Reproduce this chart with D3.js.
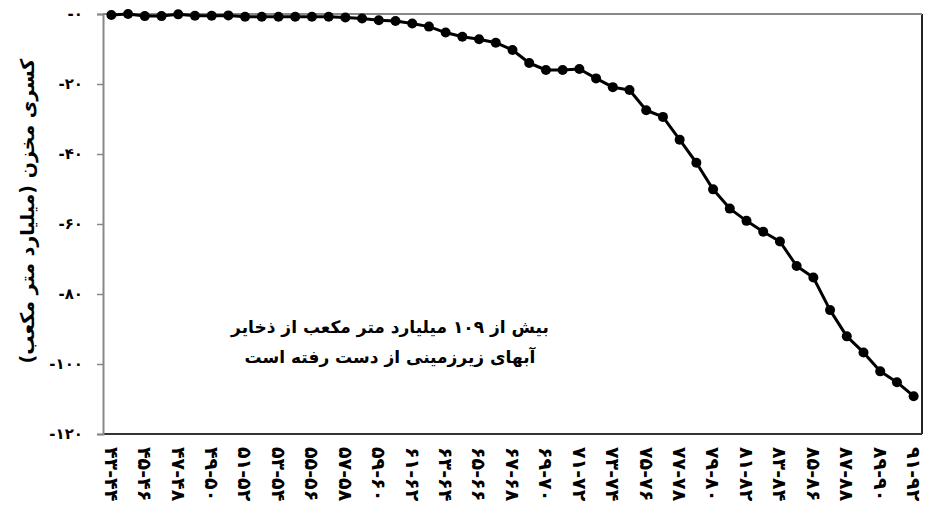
<!DOCTYPE html>
<html lang="fa">
<head>
<meta charset="UTF-8">
<title>کسری مخزن</title>
<script src="https://d3js.org/d3.v7.min.js"></script>
<style>
    body { margin: 0; background: #fff; }
    svg { display: block; font-family: "DejaVu Sans", sans-serif; font-weight: bold; }
</style>
</head>
<body>
<script>
    // water years (every year), only every other one is labelled
    const years = ["۴۳-۴۴","۴۴-۴۵","۴۵-۴۶","۴۶-۴۷","۴۷-۴۸","۴۸-۴۹","۴۹-۵۰","۵۰-۵۱","۵۱-۵۲","۵۲-۵۳",
        "۵۳-۵۴","۵۴-۵۵","۵۵-۵۶","۵۶-۵۷","۵۷-۵۸","۵۸-۵۹","۵۹-۶۰","۶۰-۶۱","۶۱-۶۲","۶۲-۶۳",
        "۶۳-۶۴","۶۴-۶۵","۶۵-۶۶","۶۶-۶۷","۶۷-۶۸","۶۸-۶۹","۶۹-۷۰","۷۰-۷۱","۷۱-۷۲","۷۲-۷۳",
        "۷۳-۷۴","۷۴-۷۵","۷۵-۷۶","۷۶-۷۷","۷۷-۷۸","۷۸-۷۹","۷۹-۸۰","۸۰-۸۱","۸۱-۸۲","۸۲-۸۳",
        "۸۳-۸۴","۸۴-۸۵","۸۵-۸۶","۸۶-۸۷","۸۷-۸۸","۸۸-۸۹","۸۹-۹۰","۹۰-۹۱","۹۱-۹۲"];

    // cumulative reservoir deficit (billion m3)
    const deficit = [-0.3, 0, -0.6, -0.6, -0.1, -0.5, -0.5, -0.4, -0.8, -0.8,
        -0.8, -0.8, -0.8, -0.8, -1.0, -1.3, -1.8, -2.0, -2.7, -3.6,
        -5.3, -6.5, -7.2, -8.2, -10.3, -14.0, -16.0, -16.0, -15.7, -18.4,
        -20.9, -21.7, -27.5, -29.4, -35.9, -42.5, -50.1, -55.6, -59.1, -62.2,
        -65.0, -72.0, -75.3, -84.6, -92.1, -96.7, -102.1, -105.2, -109.2];

    const yTicks = [0, -20, -40, -60, -80, -100, -120];
    const yTickLabels = ["-۰", "-۲۰", "-۴۰", "-۶۰", "-۸۰", "-۱۰۰", "-۱۲۰"];

    const yTitle = "کسری مخزن (میلیارد متر مکعب)";
    const note = ["بیش از ۱۰۹ میلیارد متر مکعب از ذخایر", "آبهای زیرزمینی از دست رفته است"];

    const W = 925, H = 513;
    const plot = { left: 103, right: 922, top: 14, bottom: 434 };

    const svg = d3.select("body").append("svg")
        .attr("width", W)
        .attr("height", H);

    const x = d3.scaleBand()
        .domain(years)
        .range([plot.left, plot.right]);

    const y = d3.scaleLinear()
        .domain([0, -120])
        .range([plot.top, plot.bottom]);

    // plot area border (right / bottom dark)
    svg.append("line")
        .attr("x1", plot.right).attr("x2", plot.right)
        .attr("y1", plot.top).attr("y2", plot.bottom)
        .attr("stroke", "#222").attr("stroke-width", 2);
    svg.append("line")
        .attr("x1", plot.left).attr("x2", plot.right)
        .attr("y1", plot.bottom).attr("y2", plot.bottom)
        .attr("stroke", "#333").attr("stroke-width", 2);

    // value axis
    const yAxis = svg.append("g")
        .attr("transform", `translate(${plot.left},0)`)
        .call(d3.axisLeft(y)
            .tickValues(yTicks)
            .tickFormat((d, i) => yTickLabels[i])
            .tickSize(6)
            .tickPadding(14));
    yAxis.select(".domain").attr("stroke", "#888").attr("stroke-width", 2);
    yAxis.selectAll(".tick line").attr("stroke", "#888").attr("stroke-width", 1.5);
    yAxis.selectAll(".tick text")
        .attr("font-size", 15)
        .attr("font-weight", "bold")
        .attr("font-family", "DejaVu Sans")
        .attr("fill", "#000");

    // category axis line crosses at zero (top)
    svg.append("line")
        .attr("x1", plot.left).attr("x2", plot.right)
        .attr("y1", y(0)).attr("y2", y(0))
        .attr("stroke", "#888").attr("stroke-width", 2);

    // category labels at the bottom, rotated
    svg.append("g")
        .selectAll("text")
        .data(years.filter((d, i) => i % 2 === 0))
        .join("text")
        .attr("transform", d => `translate(${x(d) + x.bandwidth() / 2},447) rotate(90)`)
        .attr("dy", "0.35em")
        .attr("text-anchor", "start")
        .attr("font-size", 19)
        .attr("direction", "ltr")
        .text(d => d);

    // line and markers
    const line = d3.line()
        .x((d, i) => x(years[i]) + x.bandwidth() / 2)
        .y(d => y(d));

    svg.append("path")
        .datum(deficit)
        .attr("d", line)
        .attr("fill", "none")
        .attr("stroke", "#000")
        .attr("stroke-width", 3)
        .attr("stroke-linejoin", "round");

    svg.append("g")
        .selectAll("circle")
        .data(deficit)
        .join("circle")
        .attr("cx", (d, i) => x(years[i]) + x.bandwidth() / 2)
        .attr("cy", d => y(d))
        .attr("r", 5)
        .attr("fill", "#000");

    // y axis title
    svg.append("text")
        .attr("transform", "translate(27,211) rotate(-90)")
        .attr("text-anchor", "middle")
        .attr("dy", "0.35em")
        .attr("font-size", 19)
        .attr("direction", "rtl")
        .text(yTitle);

    // annotation
    svg.append("g")
        .selectAll("text")
        .data(note)
        .join("text")
        .attr("x", 390)
        .attr("y", (d, i) => 327 + i * 30)
        .attr("dy", "0.35em")
        .attr("text-anchor", "middle")
        .attr("direction", "rtl")
        .attr("font-size", 17)
        .text(d => d);
</script>
</body>
</html>
